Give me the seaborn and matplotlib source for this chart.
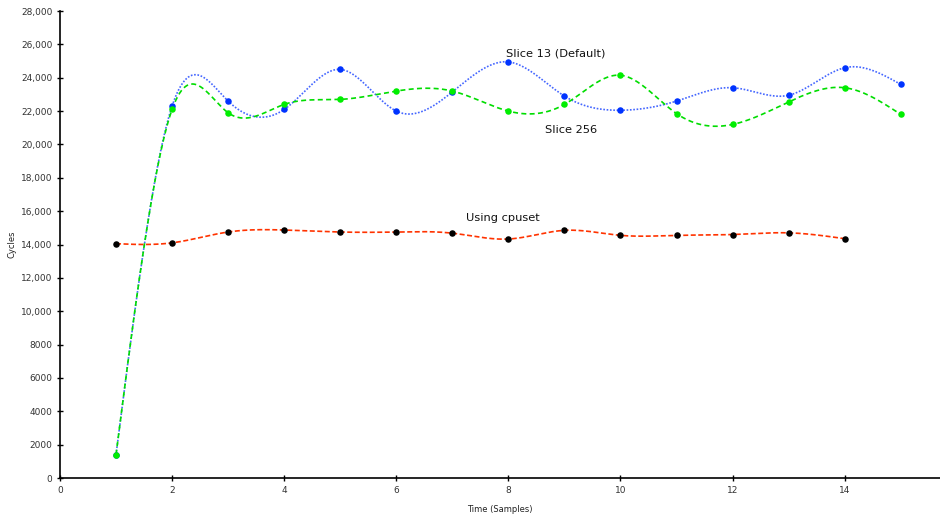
import numpy as np
import pandas as pd
import matplotlib
matplotlib.use("Agg")
import matplotlib.pyplot as plt
import seaborn as sns
from matplotlib.ticker import FuncFormatter, MultipleLocator

samples = list(range(1, 16))
slice13 = [1400, 22300, 22600, 22100, 24500, 22000, 23150, 24950, 22900, 22050, 22600, 23400, 22950, 24600, 23600]
slice256 = [1400, 22100, 21900, 22400, 22700, 23200, 23200, 22000, 22400, 24150, 21850, 21200, 22550, 23400, 21800]
cpuset_x = list(range(1, 15))
cpuset = [14050, 14100, 14750, 14870, 14750, 14750, 14680, 14330, 14850, 14550, 14550, 14600, 14700, 14350]


def natural_spline(x, y, n=60):
    x = np.asarray(x, float)
    y = np.asarray(y, float)
    k = len(x)
    h = np.diff(x)
    A = np.zeros((k, k))
    b = np.zeros(k)
    A[0, 0] = 1
    A[-1, -1] = 1
    for i in range(1, k - 1):
        A[i, i - 1] = h[i - 1]
        A[i, i] = 2 * (h[i - 1] + h[i])
        A[i, i + 1] = h[i]
        b[i] = 6 * ((y[i + 1] - y[i]) / h[i] - (y[i] - y[i - 1]) / h[i - 1])
    M = np.linalg.solve(A, b)
    xs_all, ys_all = [], []
    for i in range(k - 1):
        xs = np.linspace(x[i], x[i + 1], n)
        x0, x1, hh = x[i], x[i + 1], h[i]
        ys = (M[i] * (x1 - xs) ** 3 / (6 * hh) + M[i + 1] * (xs - x0) ** 3 / (6 * hh)
              + (y[i] / hh - M[i] * hh / 6) * (x1 - xs)
              + (y[i + 1] / hh - M[i + 1] * hh / 6) * (xs - x0))
        xs_all.append(xs)
        ys_all.append(ys)
    return np.concatenate(xs_all), np.concatenate(ys_all)


sns.set_theme(style="white")
plt.rcParams['font.family'] = ['DejaVu Sans']

fig = plt.figure(figsize=(9.4, 5.15), dpi=100)
ax = fig.add_axes([0.0638, 0.0718, 0.9362, 0.9068])

series = [
    (samples, slice13, "#4466ff", "#0033ff", (0, (1, 1))),
    (samples, slice256, "#00dd00", "#00ee00", (0, (3, 2))),
    (cpuset_x, cpuset, "#ff3300", "#000000", (0, (3, 1.5))),
]
for xv, yv, lc, mc, ls in series:
    xs, ys = natural_spline(xv, yv)
    sns.lineplot(x=xs, y=ys, ax=ax, color=lc, linewidth=1.2, linestyle=ls, sort=False)
    sns.scatterplot(x=xv, y=yv, ax=ax, color=mc, s=22, edgecolor=mc, linewidth=0, zorder=5)

ax.text(8.84, 25480, "Slice 13 (Default)", ha="center", va="center", fontsize=8.2, color="#111111")
ax.text(9.12, 20860, "Slice 256", ha="center", va="center", fontsize=8.2, color="#111111")
ax.text(7.91, 15590, "Using cpuset", ha="center", va="center", fontsize=8.2, color="#111111")

ax.set_xlim(0, 15.7)
ax.set_ylim(0, 28000)
ax.xaxis.set_major_locator(MultipleLocator(2))
ax.yaxis.set_major_locator(MultipleLocator(2000))


def yfmt(v, pos):
    v = int(round(v))
    return f"{v:,}" if v >= 10000 else f"{v}"


ax.yaxis.set_major_formatter(FuncFormatter(yfmt))
ax.tick_params(axis="both", direction="inout", length=5, width=1, labelsize=6.5,
               colors="black", labelcolor="#333333", left=True, bottom=True, pad=3)
for s in ["top", "right"]:
    ax.spines[s].set_visible(False)
for s in ["left", "bottom"]:
    ax.spines[s].set_color("black")
    ax.spines[s].set_linewidth(1.2)

ax.set_xlabel("Time (Samples)", fontsize=6, color="#222222")
ax.set_ylabel("Cycles", fontsize=6, color="#222222")
ax.xaxis.set_label_coords(0.5, -0.068)
ax.yaxis.set_label_coords(-0.054, 0.5)
ax.xaxis.label.set_va("center")
ax.yaxis.label.set_va("center")

fig.savefig("out.png", dpi=100)
